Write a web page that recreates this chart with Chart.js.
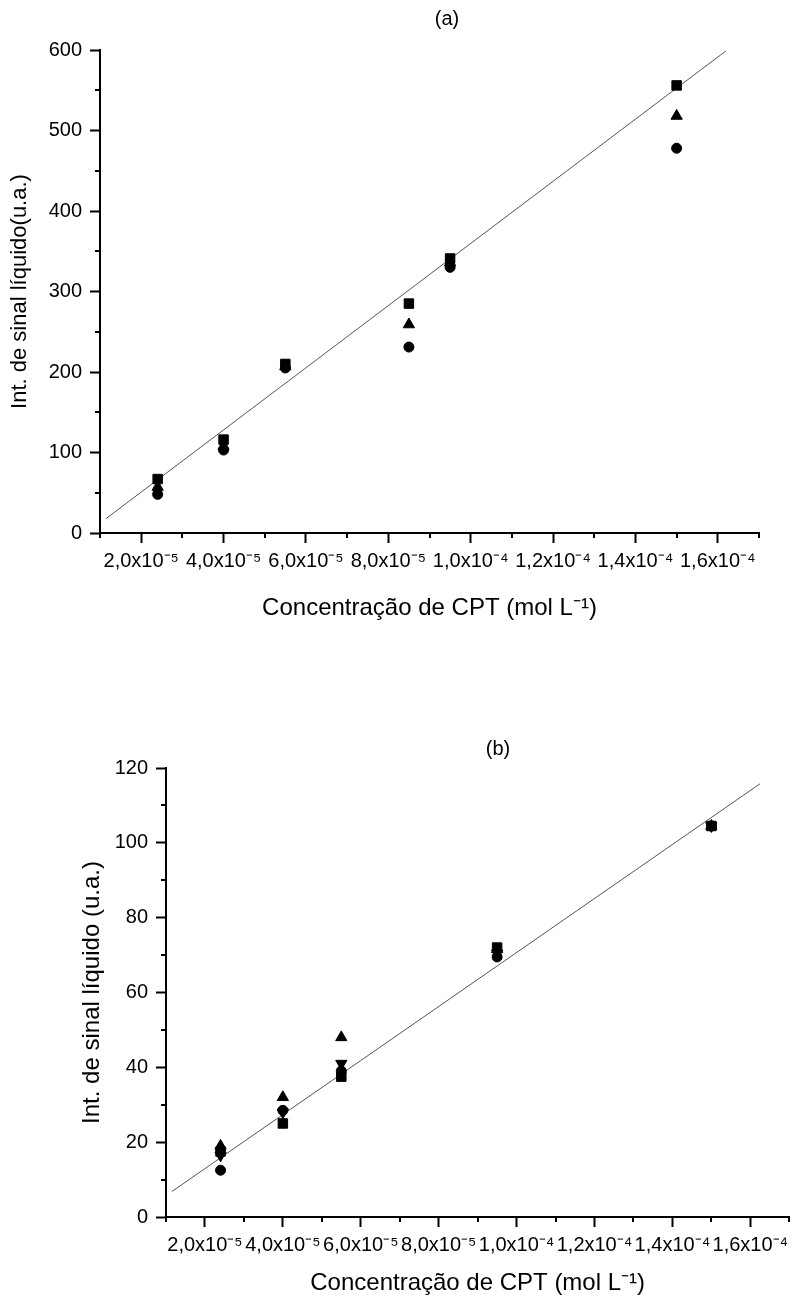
<!DOCTYPE html>
<html>
<head>
<meta charset="utf-8">
<script src="https://cdn.jsdelivr.net/npm/chart.js@4.4.0/dist/chart.umd.min.js"></script>
<style>
  body { margin: 0; background: #fff; width: 797px; height: 1302px; position: relative; overflow: hidden; font-family: 'Liberation Sans', Arial, Helvetica, sans-serif; }
  canvas { position: absolute; left: 0; }
  #chartA { top: 0; }
  #chartB { top: 690px; }
  .panel { position: absolute; font-size: 20px; color: #000; transform: translate(-50%, -50%); }
</style>
</head>
<body>
<canvas id="chartA" width="797" height="640"></canvas>
<canvas id="chartB" width="797" height="612"></canvas>
<div class="panel" style="left:447px; top:18px">(a)</div>
<div class="panel" style="left:498px; top:748px">(b)</div>
<script>
// (a) - concentracao (mol/L) e sinal liquido
const concA = [2.4e-5, 4.0e-5, 5.5e-5, 8.5e-5, 9.5e-5, 1.5e-4];
const squareA = [67, 116, 210, 285, 341, 556];
const triangleA = [57, 108, 207, 259, 336, 518];
const circleA = [48, 103, 205, 231, 330, 478];
const fitAx = [1.15e-5, 1.62e-4];
const fitAy = [18, 599];

// (b)
const concB = [2.4e-5, 4.0e-5, 5.5e-5, 9.5e-5, 1.5e-4];
const squareB = [17.5, 25, 37.5, 72, 104.5];
const circleB = [12.5, 28.5, 39, 69.5, 104.5];
const triUpB = [19, 32, 48, 71.5, 104.5];
const triDownB = [16.5, 28, 41, 70.5, 104.5];
const fitBx = [1.15e-5, 1.625e-4];
const fitBy = [6.8, 115.8];

// x tick labels, one for every 2e-5
const xTickLabels = ['2,0x10⁻⁵', '4,0x10⁻⁵', '6,0x10⁻⁵', '8,0x10⁻⁵', '1,0x10⁻⁴', '1,2x10⁻⁴', '1,4x10⁻⁴', '1,6x10⁻⁴'];

Chart.defaults.color = '#000';
Chart.defaults.font.family = "'Liberation Sans', Arial, Helvetica, sans-serif";

function pts(xs, ys) {
  return xs.map((x, i) => ({ x: x, y: ys[i] }));
}

function xLabel(v) {
  const n = Math.round(v * 1e5);
  if (n % 2 === 0 && n >= 2 && n <= 16) return xTickLabels[n / 2 - 1];
  return '';
}

// short ticks between the labelled ones
const minorTicks = {
  id: 'minorTicks',
  afterDraw(chart, args, opts) {
    const c = chart.ctx;
    const xs = chart.scales.x;
    const ys = chart.scales.y;
    c.save();
    c.strokeStyle = '#000';
    c.lineWidth = 2;
    c.beginPath();
    xs.ticks.forEach(t => {
      if (xLabel(t.value) === '') {
        const px = Math.round(xs.getPixelForValue(t.value));
        c.moveTo(px, xs.top);
        c.lineTo(px, xs.top + 5);
      }
    });
    ys.ticks.forEach(t => {
      if (Math.round(t.value) % opts.major !== 0) {
        const py = Math.round(ys.getPixelForValue(t.value));
        c.moveTo(ys.right, py);
        c.lineTo(ys.right - 5, py);
      }
    });
    c.stroke();
    c.restore();
  }
};

function marker(data, style, radius, rotation) {
  return {
    data: data,
    pointStyle: style,
    pointRadius: radius,
    pointRotation: rotation || 0,
    backgroundColor: '#000',
    borderColor: '#000',
    borderWidth: 1,
    showLine: false
  };
}

function fitLine(data) {
  return {
    data: data,
    showLine: true,
    borderColor: '#555',
    borderWidth: 1,
    pointRadius: 0,
    fill: false
  };
}

function makeChart(id, o) {
  return new Chart(document.getElementById(id), {
    type: 'scatter',
    data: { datasets: o.datasets },
    options: {
      responsive: false,
      animation: false,
      layout: { padding: o.padding },
      plugins: {
        legend: { display: false },
        tooltip: { enabled: false },
        minorTicks: { major: o.yMajor }
      },
      scales: {
        x: {
          type: 'linear',
          min: 1e-5,
          max: 1.7e-4,
          afterFit: s => { s.height = o.xHeight; s.paddingLeft = 0; s.paddingRight = 0; },
          border: { color: '#000', width: 2 },
          grid: {
            drawOnChartArea: false,
            tickLength: 10,
            tickWidth: 2,
            tickColor: c => xLabel(c.tick.value) ? '#000' : 'rgba(0,0,0,0)'
          },
          ticks: {
            stepSize: 1e-5,
            autoSkip: false,
            maxRotation: 0,
            padding: 6,
            font: { size: 20 },
            callback: v => xLabel(v)
          },
          title: {
            display: true,
            text: 'Concentração de CPT (mol L⁻¹)',
            font: { size: 24 },
            padding: { top: 0, bottom: o.xTitlePad }
          }
        },
        y: {
          type: 'linear',
          min: 0,
          max: o.yMax,
          afterFit: s => { s.width = o.yWidth; },
          border: { color: '#000', width: 2 },
          grid: {
            drawOnChartArea: false,
            tickLength: 10,
            tickWidth: 2,
            tickColor: c => Math.round(c.tick.value) % o.yMajor === 0 ? '#000' : 'rgba(0,0,0,0)'
          },
          ticks: {
            stepSize: o.yMajor / 2,
            autoSkip: false,
            padding: 8,
            font: { size: 20 },
            callback: v => Math.round(v) % o.yMajor === 0 ? String(v) : ''
          },
          title: {
            display: true,
            text: o.yTitle,
            font: { size: o.yTitleSize },
            padding: { top: o.yTitlePad, bottom: 0 }
          }
        }
      }
    },
    plugins: [minorTicks]
  });
}

makeChart('chartA', {
  datasets: [
    marker(pts(concA, squareA), 'rect', 6.7),
    marker(pts(concA, triangleA), 'triangle', 6.5),
    marker(pts(concA, circleA), 'circle', 5),
    fitLine(pts(fitAx, fitAy))
  ],
  padding: { top: 50, right: 38, bottom: 0, left: 0 },
  xHeight: 107,
  xTitlePad: 17,
  yWidth: 100,
  yMax: 600,
  yMajor: 100,
  yTitle: 'Int. de sinal líquido(u.a.)',
  yTitleSize: 22,
  yTitlePad: 7
});

makeChart('chartB', {
  datasets: [
    marker(pts(concB, triUpB), 'triangle', 6.5),
    marker(pts(concB, triDownB), 'triangle', 6.5, 180),
    marker(pts(concB, circleB), 'circle', 5),
    marker(pts(concB, squareB), 'rect', 6.7),
    fitLine(pts(fitBx, fitBy))
  ],
  padding: { top: 78, right: 0, bottom: 0, left: 0 },
  xHeight: 85,
  xTitlePad: 4,
  yWidth: 166,
  yMax: 120,
  yMajor: 20,
  yTitle: 'Int. de sinal líquido (u.a.)',
  yTitleSize: 24,
  yTitlePad: 78
});
</script>
</body>
</html>
